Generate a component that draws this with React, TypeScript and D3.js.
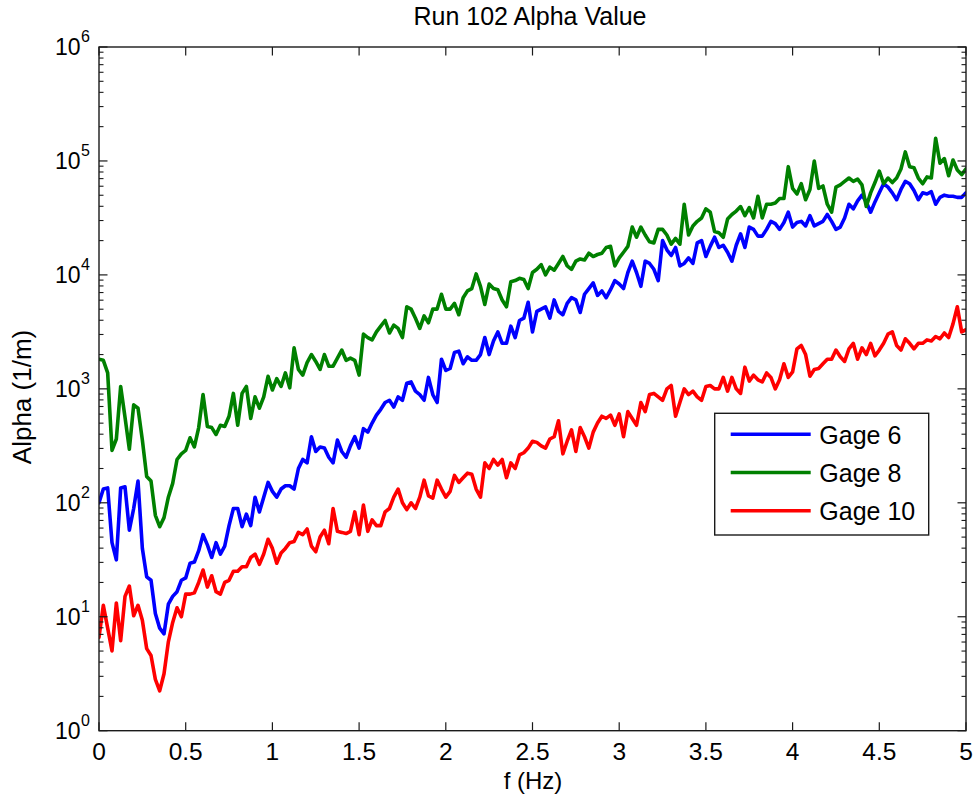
import React from 'react';
import * as d3 from 'd3';

// Spectral bin spacing (Hz); the n-th value of each series sits at n * FREQ_STEP.
const FREQ_STEP = 0.025;

// Attenuation coefficient alpha (1/m) per frequency bin.
const gage6 = [
  100, 132, 135, 44.7, 31.6, 135, 138, 57.5, 89.1, 155,
  39.8, 22.4, 20.9, 10.7, 7.94, 7.08, 12.9, 15.1, 16.6, 20.9,
  21.9, 29.5, 30.2, 38.0, 52.5, 42.7, 33.1, 44.7, 35.5, 41.7,
  63.1, 89.1, 89.1, 61.7, 79.4, 63.1, 112, 83.2, 112, 151,
  126, 112, 132, 141, 141, 132, 200, 240, 224, 380,
  282, 309, 302, 251, 224, 355, 282, 251, 316, 380,
  302, 447, 417, 501, 589, 661, 759, 794, 692, 851,
  794, 1120, 1150, 955, 891, 794, 1260, 891, 759, 1820,
  1450, 1510, 2090, 2140, 1660, 1910, 1780, 1780, 2000, 2820,
  2000, 2630, 3160, 2510, 2510, 3550, 2820, 3980, 4170, 5750,
  3160, 4790, 5010, 5250, 4170, 6030, 4790, 4470, 5620, 6310,
  6030, 4680, 6760, 7590, 8510, 6610, 7240, 6310, 7410, 8910,
  8320, 7590, 10500, 13200, 10500, 7940, 13200, 12600, 11200, 8910,
  20000, 16600, 14800, 17400, 12000, 12600, 14100, 12600, 19100, 20000,
  14500, 17800, 21400, 17400, 18200, 15800, 13200, 18200, 22900, 17400,
  26300, 25100, 21900, 21900, 25100, 29500, 28200, 25100, 28800, 35500,
  26300, 28800, 29500, 26900, 33100, 26900, 28200, 29500, 33900, 29500,
  25100, 26300, 31600, 41700, 38000, 44700, 50100, 43700, 35500, 43700,
  52500, 63100, 58900, 52500, 45700, 56200, 66100, 63100, 55000, 45700,
  52500, 51300, 53700, 41700, 47900, 50100, 49000, 49000, 47900, 47900,
  52500,
];

const gage8 = [
  1820, 1780, 1380, 288, 363, 1050, 562, 295, 724, 676,
  355, 170, 155, 77.6, 61.7, 74.1, 112, 148, 240, 269,
  288, 372, 309, 457, 891, 468, 457, 398, 479, 468,
  575, 912, 479, 912, 1050, 550, 851, 676, 851, 1290,
  977, 1230, 1050, 1380, 1020, 2290, 1480, 1320, 1700, 2000,
  1740, 1480, 2000, 1580, 1580, 1860, 2190, 1780, 1860, 1780,
  1320, 3020, 2820, 2690, 3160, 3550, 3980, 3090, 3630, 3390,
  2820, 5250, 5010, 4170, 3390, 4370, 3800, 5010, 5010, 6760,
  5010, 5010, 5620, 4470, 6310, 7240, 7590, 10200, 7940, 5500,
  8320, 7590, 7410, 6030, 5250, 8710, 8910, 9330, 9120, 7590,
  10500, 11200, 12300, 10000, 11700, 11000, 12600, 14500, 12000, 11200,
  13200, 13800, 13500, 15500, 14500, 15100, 15500, 17400, 17800, 12000,
  14100, 15800, 17800, 26300, 21400, 26300, 22400, 19500, 19100, 25100,
  25100, 22400, 18600, 20900, 18600, 41700, 22400, 26900, 29500, 31600,
  38000, 35500, 24000, 23400, 21400, 30900, 33900, 36300, 39800, 33100,
  38900, 31600, 49000, 31600, 41700, 41700, 42700, 46800, 46800, 89100,
  57500, 51300, 63100, 45700, 56200, 100000, 57500, 60300, 41700, 35500,
  58900, 61700, 66100, 70800, 66100, 69200, 61700, 39800, 52500, 64600,
  81300, 63100, 70800, 64600, 70800, 85100, 120000, 89100, 87100, 70800,
  63100, 72400, 70800, 158000, 95500, 105000, 74100, 102000, 83200, 75900,
  85100,
];

const gage10 = [
  6.61, 12.6, 7.94, 5.01, 13.2, 6.17, 15.1, 18.6, 10.2, 12.6,
  9.33, 5.25, 4.57, 2.82, 2.24, 3.16, 6.03, 8.91, 12.0, 10.0,
  15.8, 15.8, 16.2, 20.0, 25.7, 18.2, 22.9, 16.6, 15.8, 20.0,
  20.9, 25.1, 25.1, 27.5, 27.5, 33.1, 35.5, 28.8, 35.5, 47.9,
  39.8, 29.5, 36.3, 39.8, 44.7, 45.7, 55.0, 52.5, 58.9, 41.7,
  37.2, 50.1, 57.5, 43.7, 89.1, 56.2, 55.0, 53.7, 56.2, 83.2,
  52.5, 95.5, 56.2, 70.8, 63.1, 63.1, 83.2, 89.1, 112, 132,
  100, 87.1, 100, 89.1, 112, 158, 115, 110, 158, 132,
  112, 126, 174, 151, 166, 182, 178, 132, 112, 224,
  200, 240, 214, 240, 166, 224, 200, 263, 275, 302,
  347, 339, 316, 302, 363, 380, 525, 269, 347, 437,
  282, 457, 380, 302, 417, 501, 575, 550, 589, 479,
  603, 380, 631, 550, 479, 759, 631, 891, 912, 851,
  794, 1000, 1070, 575, 759, 1000, 891, 955, 851, 794,
  1050, 1070, 1000, 1000, 1260, 955, 1260, 1000, 912, 1550,
  1170, 1320, 1200, 1150, 1380, 1260, 1000, 1200, 1660, 1260,
  1410, 2240, 2400, 2000, 1290, 1480, 1510, 1660, 1820, 1820,
  2190, 1910, 1740, 2240, 2510, 1820, 2290, 2000, 2510, 1950,
  2190, 2510, 3020, 3160, 2400, 2190, 2750, 2510, 2240, 2510,
  2510, 2690, 2630, 2880, 2750, 3090, 2820, 3720, 5250, 3160,
  3310,
];

const seriesNames = ['Gage 6', 'Gage 8', 'Gage 10'];
const seriesColors = ['#0000ff', '#008000', '#ff0000'];
const seriesValues = [gage6, gage8, gage10];

const xTicks = [0, 0.5, 1, 1.5, 2, 2.5, 3, 3.5, 4, 4.5, 5];
const xTickLabels = ['0', '0.5', '1', '1.5', '2', '2.5', '3', '3.5', '4', '4.5', '5'];
const yExponents = [0, 1, 2, 3, 4, 5, 6];

const titleText = 'Run 102 Alpha Value';
const xLabelText = 'f (Hz)';
const yLabelText = 'Alpha (1/m)';

const W = 977;
const H = 802;
const LEFT = 99;
const RIGHT = 966;
const TOP = 47;
const BOTTOM = 730.7;
const FONT = '"Liberation Sans", Arial, Helvetica, sans-serif';
const AXIS = '#1a1a1a';

export default function App() {
  const x = d3.scaleLinear().domain([0, 5]).range([LEFT, RIGHT]);
  const y = d3.scaleLog().domain([1, 1e6]).range([BOTTOM, TOP]);

  const line = d3
    .line<number>()
    .x((_, i) => x(i * FREQ_STEP))
    .y((d) => y(d));

  const minorValues: number[] = [];
  for (let k = 0; k < 6; k++) {
    for (let m = 2; m <= 9; m++) minorValues.push(m * Math.pow(10, k));
  }

  const MAJ = 8.5;
  const MIN = 4.5;

  // Legend box geometry
  const lgX = 714.7;
  const lgY = 413.3;
  const lgW = 214;
  const lgH = 121.7;
  const rowY = [434.3, 472.5, 510.7];

  return (
    <svg
      width={W}
      height={H}
      viewBox={`0 0 ${W} ${H}`}
      style={{ position: 'absolute', left: 0, top: 0, background: '#fff' }}
      fontFamily={FONT}
    >
      <rect x={0} y={0} width={W} height={H} fill="#fff" />

      <text x={530} y={25} fontSize={25} textAnchor="middle" fill="#000">
        {titleText}
      </text>

      <defs>
        <clipPath id="plot-clip">
          <rect x={LEFT} y={TOP} width={RIGHT - LEFT} height={BOTTOM - TOP} />
        </clipPath>
      </defs>

      <g clipPath="url(#plot-clip)">
        {seriesValues.map((vals, s) => (
          <path
            key={seriesNames[s]}
            d={line(vals) ?? ''}
            fill="none"
            stroke={seriesColors[s]}
            strokeWidth={3.6}
            strokeLinejoin="round"
            strokeLinecap="round"
          />
        ))}
      </g>

      {/* axes box */}
      <rect
        x={LEFT}
        y={TOP}
        width={RIGHT - LEFT}
        height={BOTTOM - TOP}
        fill="none"
        stroke={AXIS}
        strokeWidth={1.4}
      />

      {/* x ticks, bottom and top */}
      {xTicks.map((t, i) => (
        <g key={`xt${i}`}>
          <line x1={x(t)} x2={x(t)} y1={BOTTOM} y2={BOTTOM - MAJ} stroke={AXIS} strokeWidth={1.2} />
          <line x1={x(t)} x2={x(t)} y1={TOP} y2={TOP + MAJ} stroke={AXIS} strokeWidth={1.2} />
          <text x={x(t)} y={760} fontSize={24.5} textAnchor="middle" fill="#000">
            {xTickLabels[i]}
          </text>
        </g>
      ))}

      {/* y major ticks with 10^k labels */}
      {yExponents.map((k) => {
        const yy = y(Math.pow(10, k));
        return (
          <g key={`yt${k}`}>
            <line x1={LEFT} x2={LEFT + MAJ} y1={yy} y2={yy} stroke={AXIS} strokeWidth={1.2} />
            <line x1={RIGHT} x2={RIGHT - MAJ} y1={yy} y2={yy} stroke={AXIS} strokeWidth={1.2} />
            <text x={80.5} y={yy + 7.8} fontSize={23} textAnchor="end" fill="#000">
              10
            </text>
            <text x={81} y={yy - 5} fontSize={16} textAnchor="start" fill="#000">
              {k}
            </text>
          </g>
        );
      })}

      {/* y minor ticks */}
      {minorValues.map((v, i) => (
        <g key={`ym${i}`}>
          <line x1={LEFT} x2={LEFT + MIN} y1={y(v)} y2={y(v)} stroke={AXIS} strokeWidth={1.1} />
          <line x1={RIGHT} x2={RIGHT - MIN} y1={y(v)} y2={y(v)} stroke={AXIS} strokeWidth={1.1} />
        </g>
      ))}

      <text x={533} y={789} fontSize={24} textAnchor="middle" fill="#000">
        {xLabelText}
      </text>
      <text
        transform={`translate(31,397) rotate(-90)`}
        fontSize={26}
        textAnchor="middle"
        fill="#000"
      >
        {yLabelText}
      </text>

      {/* legend */}
      <rect x={lgX} y={lgY} width={lgW} height={lgH} fill="#fff" stroke={AXIS} strokeWidth={1.4} />
      {seriesNames.map((name, s) => (
        <g key={`lg${s}`}>
          <line
            x1={730.7}
            x2={810.7}
            y1={rowY[s]}
            y2={rowY[s]}
            stroke={seriesColors[s]}
            strokeWidth={3.6}
          />
          <text x={819.3} y={rowY[s] + 9.5} fontSize={25} fill="#000">
            {name}
          </text>
        </g>
      ))}
    </svg>
  );
}
